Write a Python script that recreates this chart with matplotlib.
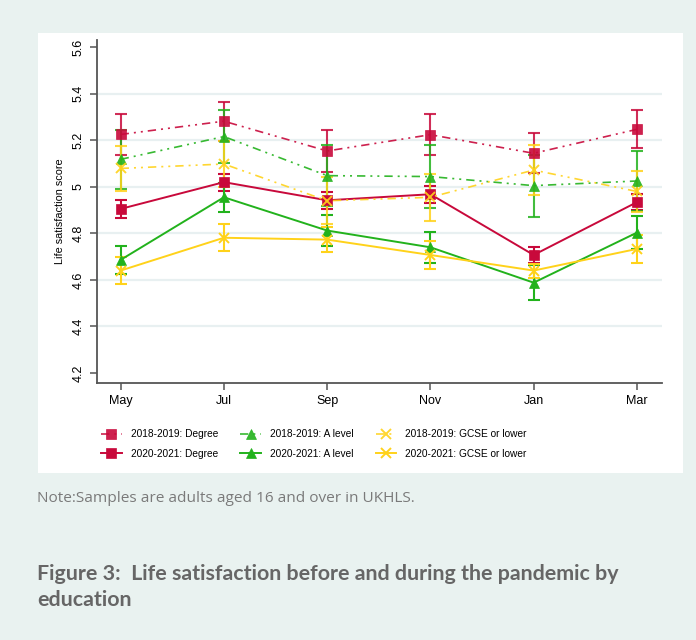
# life satisfaction by education, before and during the pandemic
import numpy as np
import matplotlib.pyplot as plt

months = ['May', 'Jul', 'Sep', 'Nov', 'Jan', 'Mar']

# means and half-widths of the 95% intervals
deg_1819 = [5.225, 5.282, 5.154, 5.224, 5.144, 5.247]
deg_1819_ci = [0.087, 0.084, 0.092, 0.089, 0.086, 0.082]
alev_1819 = [5.118, 5.216, 5.048, 5.044, 5.005, 5.025]
alev_1819_ci = [0.126, 0.114, 0.130, 0.136, 0.133, 0.130]
gcse_1819 = [5.079, 5.098, 4.940, 4.955, 5.072, 4.980]
gcse_1819_ci = [0.097, 0.100, 0.100, 0.100, 0.107, 0.090]

deg_2021 = [4.905, 5.020, 4.942, 4.968, 4.707, 4.934]
deg_2021_ci = [0.037, 0.037, 0.037, 0.036, 0.033, 0.035]
alev_2021 = [4.686, 4.955, 4.812, 4.740, 4.588, 4.803]
alev_2021_ci = [0.061, 0.063, 0.067, 0.067, 0.074, 0.070]
gcse_2021 = [4.640, 4.781, 4.773, 4.707, 4.640, 4.733]
gcse_2021_ci = [0.057, 0.057, 0.054, 0.060, 0.030, 0.060]

red = '#C8093B'
green = '#22B21C'
yellow = '#FFD21A'
dashdot = (0, (5, 3, 1.2, 3, 1.2, 3))

series = [
    ('2018-2019: Degree', deg_1819, deg_1819_ci, red, 's', dashdot),
    ('2020-2021: Degree', deg_2021, deg_2021_ci, red, 's', '-'),
    ('2018-2019: A level', alev_1819, alev_1819_ci, green, '^', dashdot),
    ('2020-2021: A level', alev_2021, alev_2021_ci, green, '^', '-'),
    ('2018-2019: GCSE or lower', gcse_1819, gcse_1819_ci, yellow, 'x', dashdot),
    ('2020-2021: GCSE or lower', gcse_2021, gcse_2021_ci, yellow, 'x', '-'),
]

fig = plt.figure(figsize=(6.96, 6.4), dpi=100)
fig.patch.set_facecolor('#E9F2F0')

# white card behind the graph
card = fig.add_axes([38 / 696, 1 - 473 / 640, 645 / 696, 440 / 640])
card.set_facecolor('white')
card.set_xticks([])
card.set_yticks([])
for s in card.spines.values():
    s.set_visible(False)

ax = fig.add_axes([96.7 / 696, 1 - 382.7 / 640, 565 / 696, 342.7 / 640])
ax.set_facecolor('none')
x = np.arange(len(months))

handles = []
for label, vals, ci, col, mk, ls in series:
    solid = ls == '-'
    ax.errorbar(x, vals, yerr=ci, fmt='none', ecolor=col, elinewidth=1.5,
                capsize=4, capthick=1.5, alpha=1 if solid else 0.85, zorder=3)
    line, = ax.plot(x, vals, color=col, linestyle=ls,
                    linewidth=1.4 if solid else 1.2, marker=mk,
                    markersize=7 if mk == '^' else 6.5,
                    markeredgewidth=1.4 if mk == 'x' else 0.5,
                    markerfacecolor=col, markeredgecolor=col, label=label,
                    alpha=1 if solid else 0.9, zorder=4)
    handles.append(line)

ax.set_xlim(-0.232, 5.24)
ax.set_ylim(4.158, 5.631)
ax.set_xticks(x)
ax.set_xticklabels(months)
yt = [4.2, 4.4, 4.6, 4.8, 5.0, 5.2, 5.4, 5.6]
ax.set_yticks(yt)
ax.set_yticklabels(['4.2', '4.4', '4.6', '4.8', '5', '5.2', '5.4', '5.6'],
                   rotation=90, va='center')
for y in yt[1:-1]:
    ax.axhline(y, color='#E8F0F1', linewidth=1.6, zorder=1)

for s in ['top', 'right']:
    ax.spines[s].set_visible(False)
for s in ['left', 'bottom']:
    ax.spines[s].set_color('#555555')
    ax.spines[s].set_linewidth(1.3)
ax.tick_params(axis='both', colors='#555555', length=5, width=1.1,
               labelcolor='black', labelsize=9, pad=4, labelfontfamily='Liberation Sans')
ax.set_ylabel('Life satisfaction score', fontsize=7.8, family='Liberation Sans',
              labelpad=5)

fig.legend(handles=handles, ncol=3, loc='center',
           bbox_to_anchor=(314 / 696, 1 - 444 / 640), frameon=False,
           prop={'family': 'Liberation Sans', 'size': 7.3},
           handlelength=2.0, handletextpad=0.9, columnspacing=2.2,
           labelspacing=0.9, markerscale=1.0)

fig.text(37 / 696, 1 - 499 / 640, 'Note:Samples are adults aged 16 and over in UKHLS.',
         fontsize=11.1, color='#7A7A7A', family='Open Sans', va='center')
fig.text(37 / 696, 1 - 587 / 640,
         'Figure 3:  Life satisfaction before and during the pandemic by\neducation',
         fontsize=15.4, color='#666666', family='Lato', fontweight='bold',
         va='center', linespacing=1.4)

fig.savefig('out.png', dpi=100, facecolor=fig.get_facecolor())
